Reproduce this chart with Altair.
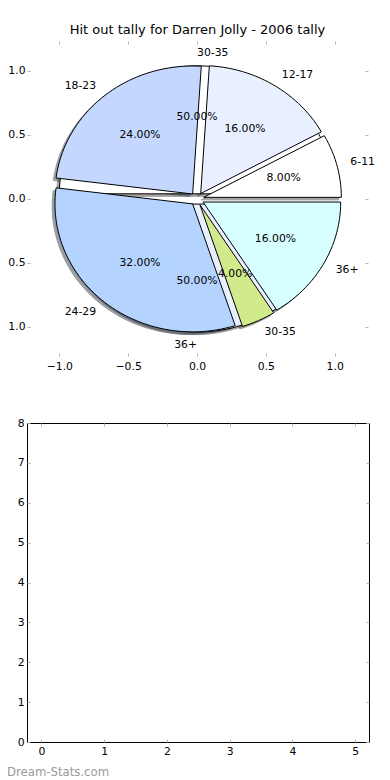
import altair as alt
import numpy as np
import pandas as pd

# ---------------- data ----------------
TITLE = "Hit out tally for Darren Jolly - 2006 tally"
age_groups = ["6-11", "12-17", "18-23", "24-29", "30-35", "36+"]
hitouts = [2, 4, 6, 8, 1, 4]            # 8%, 16%, 24%, 32%, 4%, 16%
outer_groups = ["30-35", "36+"]
outer_values = [1, 1]                   # 50% / 50%
colors = ["#ffffff", "#e8f0ff", "#c4d8ff", "#b4d4ff", "#d0ea8c", "#d8ffff"]
pie_ticks = [-1.0, -0.5, 0.0, 0.5, 1.0]
empty_xticks = [0, 1, 2, 3, 4, 5]
empty_yticks = [0, 1, 2, 3, 4, 5, 6, 7, 8]
WATERMARK = "Dream-Stats.com"

EXPLODE_MAIN = 0.05
EXPLODE_OUTER = 0.04
SHADOW = 0.02
FONT = "DejaVu Sans"
TICK_COLOR = "#b4b4b4"


def darker(hexcol, rho=0.3):
    h = hexcol.lstrip("#")
    r, g, b = (int(h[i:i + 2], 16) for i in (0, 2, 4))
    return "#%02x%02x%02x" % (int(r * rho), int(g * rho), int(b * rho))


def pie_geometry(labels, values, cols, explode, pie):
    total = float(sum(values))
    wedges, shadows, texts = [], [], []
    start = 0.0
    for i, (lab, v, c) in enumerate(zip(labels, values, cols)):
        span = 360.0 * v / total
        t1, t2 = start, start + span
        mid = np.deg2rad((t1 + t2) / 2.0)
        cx, cy = explode * np.cos(mid), explode * np.sin(mid)
        angs = np.deg2rad(np.linspace(t1, t2, max(3, int(span / 2) + 2)))
        xs = np.concatenate([[cx], cx + np.cos(angs), [cx]])
        ys = np.concatenate([[cy], cy + np.sin(angs), [cy]])
        key = f"{pie}-{i}"
        scol = darker(c)
        for k, (x, y) in enumerate(zip(xs, ys)):
            wedges.append(dict(key=key, k=k, x=x, y=y, col=c))
            shadows.append(dict(key=key, k=k, x=x - SHADOW, y=y - SHADOW, col=scol))
        lx, ly = cx + 1.1 * np.cos(mid), cy + 1.1 * np.sin(mid)
        px, py = cx + 0.6 * np.cos(mid), cy + 0.6 * np.sin(mid)
        texts.append(dict(label=lab, lx=lx, ly=ly,
                          side="left" if np.cos(mid) > 0 else "right",
                          pct=f"{100.0 * v / total:.2f}%", px=px, py=py))
        start = t2
    return pd.DataFrame(wedges), pd.DataFrame(shadows), pd.DataFrame(texts)


w1, s1, t1 = pie_geometry(age_groups, hitouts, colors, EXPLODE_MAIN, "main")
w2, s2, t2 = pie_geometry(outer_groups, outer_values, colors[:2], EXPLODE_OUTER, "outer")
shadows = pd.concat([s2, s1], ignore_index=True)
texts = pd.concat([t1, t2], ignore_index=True)

xs_top = alt.Scale(domain=[-1.235, 1.242], nice=False, zero=False)
ys_top = alt.Scale(domain=[-1.227, 1.234], nice=False, zero=False)


def tick_axis(orient, values, labels=True, fmt=None, pad=4):
    kw = dict(orient=orient, values=values, domain=False, grid=False, ticks=True,
              tickSize=3, tickColor=TICK_COLOR, tickWidth=1, offset=-3,
              labels=labels, labelFont=FONT, labelFontSize=10.8, labelColor="black",
              labelPadding=pad, title=None)
    if fmt:
        kw["format"] = fmt
    return alt.Axis(**kw)


def poly_layer(df, opacity=1.0, stroke_field=False, xaxis=None, yaxis=None):
    enc = dict(
        x=alt.X("x:Q", scale=xs_top, axis=xaxis),
        y=alt.Y("y:Q", scale=ys_top, axis=yaxis),
        order=alt.Order("k:Q"),
        detail="key:N",
        fill=alt.Fill("col:N", scale=None),
    )
    if stroke_field:
        enc["stroke"] = alt.Stroke("col:N", scale=None)
        ch = alt.Chart(df).mark_line(filled=True, opacity=opacity, strokeWidth=1)
    else:
        ch = alt.Chart(df).mark_line(filled=True, stroke="black", strokeWidth=1)
    return ch.encode(**enc)


shadow_layer = poly_layer(shadows, opacity=0.5, stroke_field=True,
                          xaxis=tick_axis("bottom", pie_ticks, True, ".1f", 4),
                          yaxis=tick_axis("left", pie_ticks, True, ".1f", 2))
outer_layer = poly_layer(w2)
main_layer = poly_layer(w1)

label_left = alt.Chart(texts).transform_filter(alt.datum.side == "left").mark_text(
    align="left", baseline="middle", font=FONT, fontSize=10.8, color="black"
).encode(x=alt.X("lx:Q", scale=xs_top, axis=None), y=alt.Y("ly:Q", scale=ys_top, axis=None), text="label:N")
label_right = alt.Chart(texts).transform_filter(alt.datum.side == "right").mark_text(
    align="right", baseline="middle", font=FONT, fontSize=10.8, color="black"
).encode(x=alt.X("lx:Q", scale=xs_top, axis=None), y=alt.Y("ly:Q", scale=ys_top, axis=None), text="label:N")
pct_layer = alt.Chart(texts).mark_text(
    align="center", baseline="middle", font=FONT, fontSize=10.8, color="black"
).encode(
    x=alt.X("px:Q", scale=xs_top, axis=tick_axis("top", pie_ticks, False)),
    y=alt.Y("py:Q", scale=ys_top, axis=tick_axis("right", pie_ticks, False)),
    text="pct:N",
)

top = alt.layer(shadow_layer, outer_layer, main_layer, label_left, label_right, pct_layer).resolve_axis(
    x="independent", y="independent"
).properties(
    width=341, height=315,
    title=alt.TitleParams(TITLE, font=FONT, fontSize=13, fontWeight="normal", color="black",
                          anchor="middle", offset=4),
    view=alt.ViewBackground(stroke=None),
)

# ---------------- empty lower axes ----------------
xs_bot = alt.Scale(domain=[-0.23, 5.22], nice=False, zero=False)
ys_bot = alt.Scale(domain=[0, 8], nice=False, zero=False)
helper = pd.DataFrame({"x": [empty_xticks[0]], "y": [empty_yticks[0]]})

bot_main = alt.Chart(helper).mark_point(opacity=0).encode(
    x=alt.X("x:Q", scale=xs_bot, axis=tick_axis("bottom", empty_xticks, True, "d", 3)),
    y=alt.Y("y:Q", scale=ys_bot, axis=tick_axis("left", empty_yticks, True, "d", 3)),
)
bot_sec = alt.Chart(helper).mark_point(opacity=0).encode(
    x=alt.X("x:Q", scale=xs_bot, axis=tick_axis("top", empty_xticks, False)),
    y=alt.Y("y:Q", scale=ys_bot, axis=tick_axis("right", empty_yticks, False)),
)
wm = alt.Chart(pd.DataFrame({"t": [WATERMARK]})).mark_text(
    align="left", baseline="middle", font=FONT, fontSize=11.7, color="#9a9a9a"
).encode(text="t:N", x=alt.value(-20), y=alt.value(349))

bottom = alt.layer(bot_main, bot_sec, wm).resolve_axis(
    x="independent", y="independent"
).properties(width=342, height=319,
             view=alt.ViewBackground(stroke="black", strokeWidth=1))


def build(padding):
    return alt.vconcat(top, bottom, spacing=45).properties(
        padding=padding
    ).configure(font=FONT).configure_view(strokeWidth=1)


try:
    chart = build({"left": -10, "top": 15, "right": 0, "bottom": 0})
    chart.to_dict()
except Exception:
    chart = build({"left": 0, "top": 15, "right": 0, "bottom": 0})

chart.save("out.html", embed_options={"renderer": "svg", "actions": False})
